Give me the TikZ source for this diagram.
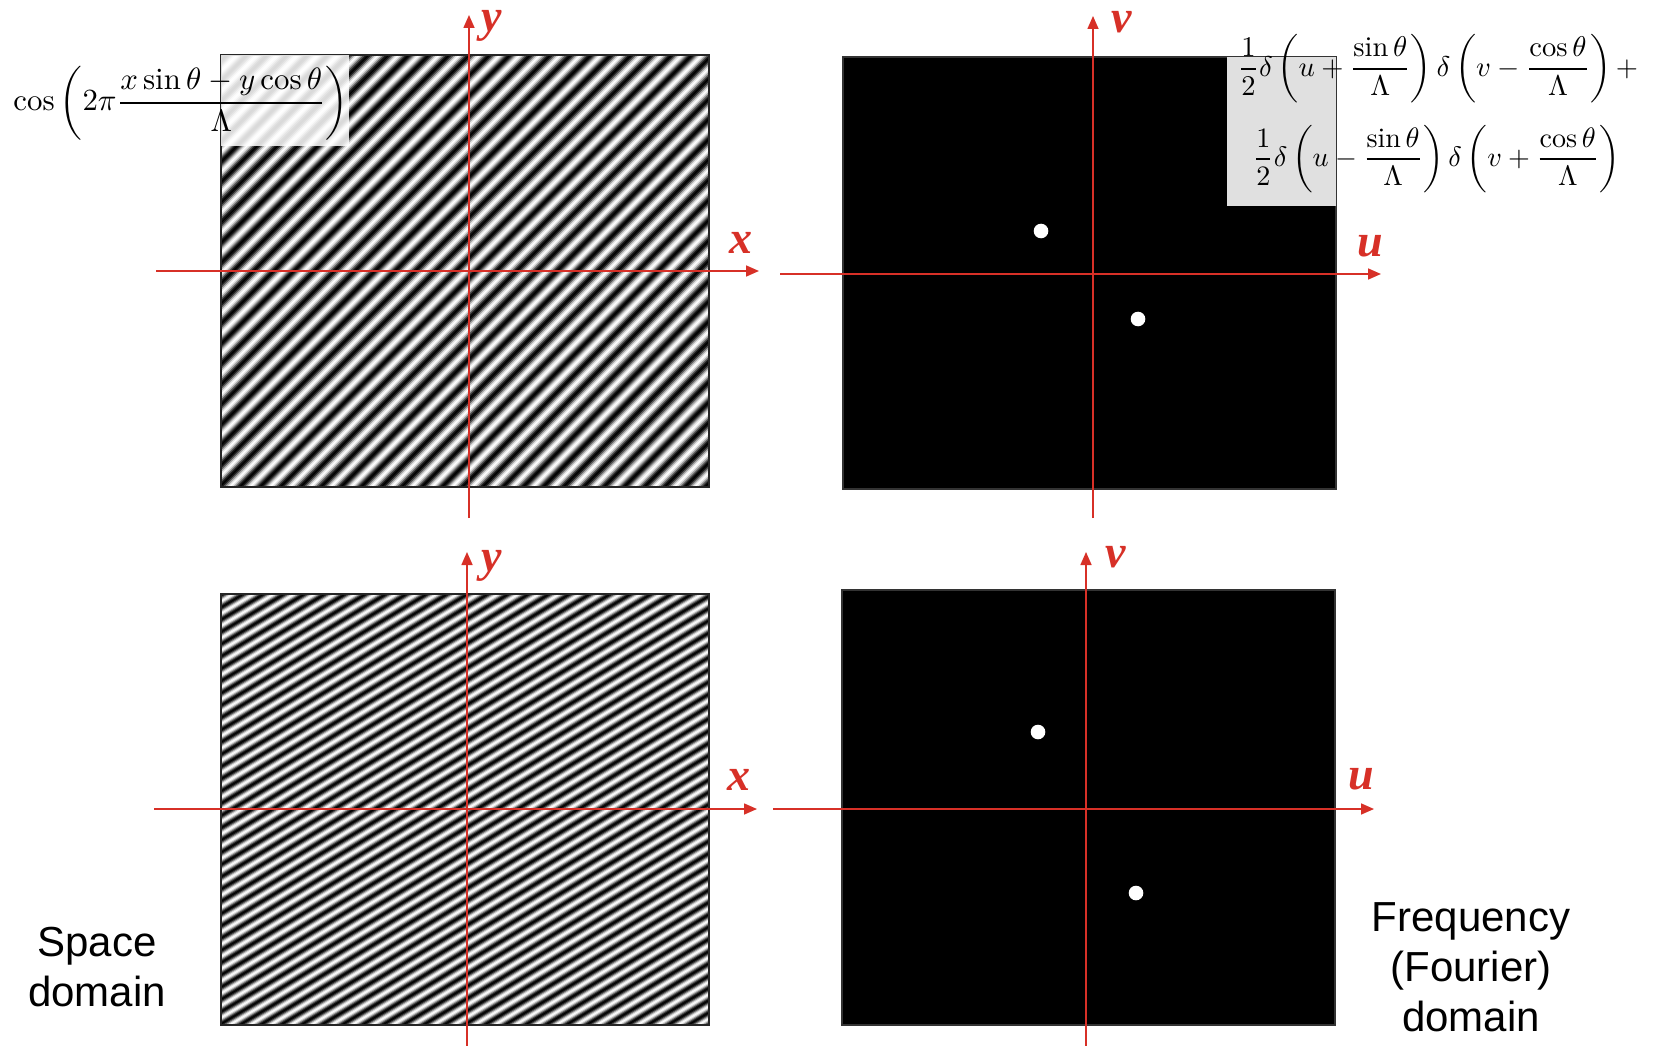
\documentclass[tikz,border=0pt]{standalone}
\usepackage{amsmath}
\usepackage{graphicx}
\usepackage{fontspec}
\newfontfamily\sansf{Liberation Sans}
\newfontfamily\lblfont{Liberation Serif}
\usetikzlibrary{arrows.meta}
\definecolor{axred}{RGB}{215,48,39}
\tikzset{
  axisarrow/.style={draw=axred, line width=1.6pt, -{Triangle[length=13pt,width=11pt]}},
  axlabel/.style={text=axred, font=\lblfont\bfseries\itshape\fontsize{46}{46}\selectfont, inner sep=0pt, anchor=base west},
  imgframe/.style={draw=black!85, line width=1.5pt, inner sep=0pt},
  specbox/.style={fill=black, draw=black!80, line width=1.5pt, inner sep=0pt},
  specdot/.style={circle, fill=white, inner sep=0pt, minimum size=14.6pt},
  domaintext/.style={font=\sansf\fontsize{42}{50}\selectfont, align=center, inner sep=0pt, anchor=base},
  formula/.style={inner sep=0pt, anchor=center},
}
\begin{document}
\begin{tikzpicture}[x=1pt,y=-1pt]
\useasboundingbox (0,0) rectangle (1657,1046);
\fill[white] (0,0) rectangle (1657,1046);

% ---------- top-left stripes ----------
\begin{scope}
  \clip (221,55) rectangle (709,487);
  \begin{scope}[shift={(465,271)}, rotate=-45]
    \foreach \i in {-24,...,23}{
      \foreach \k in {0,...,9}{
        \pgfmathtruncatemacro\g{50+50*cos(36*\k)}
        \fill[white!\g!black] ({(\i+\k/10)*14.3},-400) rectangle ({(\i+(\k+1)/10)*14.3+0.5},400);
      }
    }
  \end{scope}
\end{scope}
\node[imgframe, minimum width=488pt, minimum height=432pt] (img1) at (465,271) {};

% ---------- bottom-left stripes ----------
\begin{scope}
  \clip (221,594) rectangle (709,1025);
  \begin{scope}[shift={(465,809.5)}, rotate=-59]
    \foreach \i in {-32,...,31}{
      \foreach \k in {0,...,9}{
        \pgfmathtruncatemacro\g{50+50*cos(36*\k)}
        \fill[white!\g!black] ({(\i+\k/10)*10.5},-400) rectangle ({(\i+(\k+1)/10)*10.5+0.5},400);
      }
    }
  \end{scope}
\end{scope}
\node[imgframe, minimum width=488pt, minimum height=431pt] (img2) at (465,809.5) {};

% ---------- spectra ----------
\node[specbox, minimum width=493pt, minimum height=432pt] (spec1) at (1089.5,273) {};
\node[specbox, minimum width=493pt, minimum height=435pt] (spec2) at (1088.5,807.5) {};

% ---------- formula backgrounds ----------
\fill[white, opacity=0.85] (221,55) rectangle (349,146);
\fill[black!12] (1227,57) rectangle (1336,206);

% ---------- formulas ----------
\node[formula] (f1) at (181,103) {\resizebox{335pt}{!}{$\displaystyle \cos\left(2\pi\frac{x\sin\theta-y\cos\theta}{\Lambda}\right)$}};
\node[formula] (f2a) at (1438,69) {\resizebox{400pt}{!}{$\displaystyle \frac{1}{2}\delta\left(u+\frac{\sin\theta}{\Lambda}\right)\delta\left(v-\frac{\cos\theta}{\Lambda}\right)+$}};
\node[formula] (f2b) at (1436.5,159) {\resizebox{367pt}{!}{$\displaystyle \frac{1}{2}\delta\left(u-\frac{\sin\theta}{\Lambda}\right)\delta\left(v+\frac{\cos\theta}{\Lambda}\right)$}};

% ---------- dots ----------
\node[specdot] (d1) at (1041,231) {};
\node[specdot] (d2) at (1138,319) {};
\node[specdot] (d3) at (1038,732) {};
\node[specdot] (d4) at (1136,893) {};

% ---------- axes ----------
\coordinate (a1s) at (156,271);  \coordinate (a1e) at (759,271);
\coordinate (a2s) at (469,518);  \coordinate (a2e) at (469,15);
\coordinate (a3s) at (780,274);  \coordinate (a3e) at (1381,274);
\coordinate (a4s) at (1093,518); \coordinate (a4e) at (1093,16);
\coordinate (a5s) at (154,809);  \coordinate (a5e) at (757,809);
\coordinate (a6s) at (467,1046); \coordinate (a6e) at (467,552);
\coordinate (a7s) at (773,809);  \coordinate (a7e) at (1374,809);
\coordinate (a8s) at (1086,1046);\coordinate (a8e) at (1086,552);
\foreach \n in {1,...,8}{\draw[axisarrow] (a\n s) -- (a\n e);}

% ---------- axis labels ----------
\node[axlabel] (lx1) at (729,253) {x};
\node[axlabel] (ly1) at (481,32) {y};
\node[axlabel] (lu1) at (1357,256) {u};
\node[axlabel] (lv1) at (1111,33) {v};
\node[axlabel] (lx2) at (727,790) {x};
\node[axlabel] (ly2) at (481,571) {y};
\node[axlabel] (lu2) at (1348,789) {u};
\node[axlabel] (lv2) at (1105,567) {v};

% ---------- domain texts ----------
\node[domaintext] (space) at (97,1006) {Space\\domain};
\node[domaintext] (freq) at (1471,1031) {Frequency\\(Fourier)\\domain};
\end{tikzpicture}
\end{document}
